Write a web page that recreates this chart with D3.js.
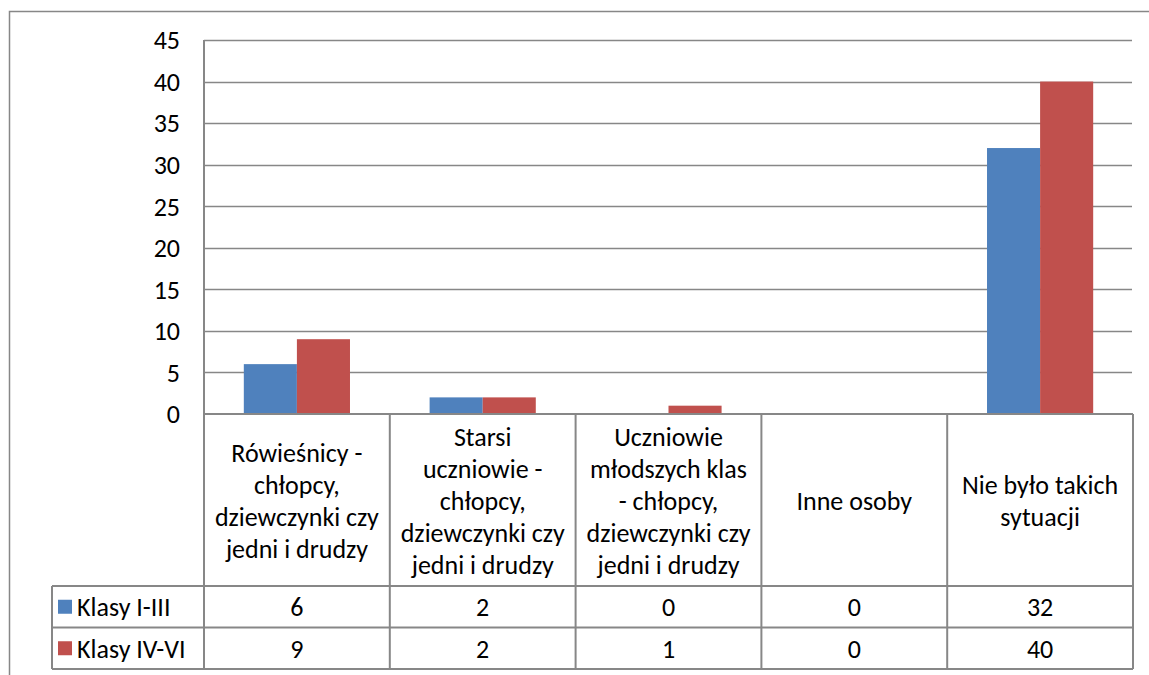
<!DOCTYPE html>
<html>
<head>
<meta charset="utf-8">
<script src="https://cdn.jsdelivr.net/npm/d3@7"></script>
<style>
  body { margin: 0; background: #fff; }
  svg text { font-family: Carlito, Calibri, Lato, sans-serif; fill: #000; }
</style>
</head>
<body>
<div id="chart"></div>
<script>
// data
var categories = [
    ["Rówieśnicy -", "chłopcy,", "dziewczynki czy", "jedni i drudzy"],
    ["Starsi", "uczniowie -", "chłopcy,", "dziewczynki czy", "jedni i drudzy"],
    ["Uczniowie", "młodszych klas", "- chłopcy,", "dziewczynki czy", "jedni i drudzy"],
    ["Inne osoby"],
    ["Nie było takich", "sytuacji"]
];
var seriesNames = ["Klasy I-III", "Klasy IV-VI"];
var klasyI_III = [6, 2, 0, 0, 32];
var klasyIV_VI = [9, 2, 1, 0, 40];
var seriesColors = ["#4F81BD", "#C0504D"];
var yTicks = [0, 5, 10, 15, 20, 25, 30, 35, 40, 45];

var W = 1149, H = 675;
var plotLeft = 204, plotRight = 1133, plotTop = 40, axisY = 414;
var headerBottom = 586, rowH = 41.5, legendLeft = 52;
var lineColor = "#878787";
var fontSize = 26;

var series = [klasyI_III, klasyIV_VI];

var svg = d3.select("#chart").append("svg")
    .attr("width", W)
    .attr("height", H);

// outer chart frame (runs off the picture at right and bottom)
svg.append("rect")
    .attr("x", 9.5).attr("y", 11.5)
    .attr("width", 1300).attr("height", 800)
    .attr("fill", "none")
    .attr("stroke", lineColor)
    .attr("stroke-width", 1.5);

var x = d3.scaleBand()
    .domain(d3.range(categories.length))
    .range([plotLeft, plotRight])
    .padding(0);

// gap width 150% -> the two bars take 2 / 3.5 of each band
var xs = d3.scaleBand()
    .domain(d3.range(series.length))
    .range([x.bandwidth() * 0.75 / 3.5, x.bandwidth() * 2.75 / 3.5])
    .padding(0);

var y = d3.scaleLinear()
    .domain([0, 45])
    .range([axisY, plotTop]);

// gridlines
svg.append("g")
    .selectAll("line")
    .data(yTicks.filter(function (d) { return d > 0; }))
    .enter().append("line")
    .attr("x1", plotLeft).attr("x2", plotRight - 1)
    .attr("y1", function (d) { return Math.round(y(d)) + 0.5; })
    .attr("y2", function (d) { return Math.round(y(d)) + 0.5; })
    .attr("stroke", lineColor)
    .attr("stroke-width", 1.5);

// y axis labels
svg.append("g")
    .selectAll("text")
    .data(yTicks)
    .enter().append("text")
    .attr("x", 180)
    .attr("y", function (d) { return y(d); })
    .attr("dy", "0.36em")
    .attr("text-anchor", "end")
    .style("font-size", fontSize + "px")
    .text(function (d) { return d; });

// bars
series.forEach(function (vals, s) {
    svg.append("g")
        .selectAll("rect")
        .data(vals)
        .enter().append("rect")
        .attr("x", function (d, i) { return x(i) + xs(s); })
        .attr("y", function (d) { return y(d); })
        .attr("width", xs.bandwidth())
        .attr("height", function (d) { return axisY - y(d); })
        .attr("fill", seriesColors[s]);
});

// table lines
var grid = svg.append("g")
    .attr("stroke", lineColor)
    .attr("stroke-width", 2);
var tableBottom = headerBottom + rowH * series.length;

grid.append("line")
    .attr("x1", plotLeft).attr("x2", plotLeft)
    .attr("y1", plotTop).attr("y2", tableBottom);
grid.append("line")
    .attr("x1", plotLeft).attr("x2", plotRight)
    .attr("y1", axisY).attr("y2", axisY);
d3.range(1, categories.length + 1).forEach(function (i) {
    var xx = i < categories.length ? x(i) : plotRight;
    grid.append("line")
        .attr("x1", xx).attr("x2", xx)
        .attr("y1", axisY).attr("y2", tableBottom);
});
d3.range(series.length + 1).forEach(function (r) {
    grid.append("line")
        .attr("x1", legendLeft).attr("x2", plotRight)
        .attr("y1", headerBottom + r * rowH).attr("y2", headerBottom + r * rowH);
});
grid.append("line")
    .attr("x1", legendLeft).attr("x2", legendLeft)
    .attr("y1", headerBottom).attr("y2", tableBottom);

// category headers
var lineH = 32;
var headerMid = (axisY + headerBottom) / 2 + 1;
categories.forEach(function (lines, i) {
    var t = svg.append("text")
        .attr("text-anchor", "middle")
        .style("font-size", fontSize + "px");
    lines.forEach(function (ln, k) {
        t.append("tspan")
            .attr("x", x(i) + x.bandwidth() / 2)
            .attr("y", headerMid + (k - (lines.length - 1) / 2) * lineH)
            .attr("dy", "0.36em")
            .text(ln);
    });
});

// data rows
series.forEach(function (vals, s) {
    var rowMid = headerBottom + rowH * s + rowH / 2;
    svg.append("rect")
        .attr("x", 58).attr("y", rowMid - 7)
        .attr("width", 14).attr("height", 14)
        .attr("fill", seriesColors[s]);
    svg.append("text")
        .attr("x", 77).attr("y", rowMid)
        .attr("dy", "0.36em")
        .style("font-size", fontSize + "px")
        .text(seriesNames[s]);
    svg.append("g")
        .selectAll("text")
        .data(vals)
        .enter().append("text")
        .attr("x", function (d, i) { return x(i) + x.bandwidth() / 2; })
        .attr("y", rowMid)
        .attr("dy", "0.36em")
        .attr("text-anchor", "middle")
        .style("font-size", fontSize + "px")
        .text(function (d) { return d; });
});
</script>
</body>
</html>
